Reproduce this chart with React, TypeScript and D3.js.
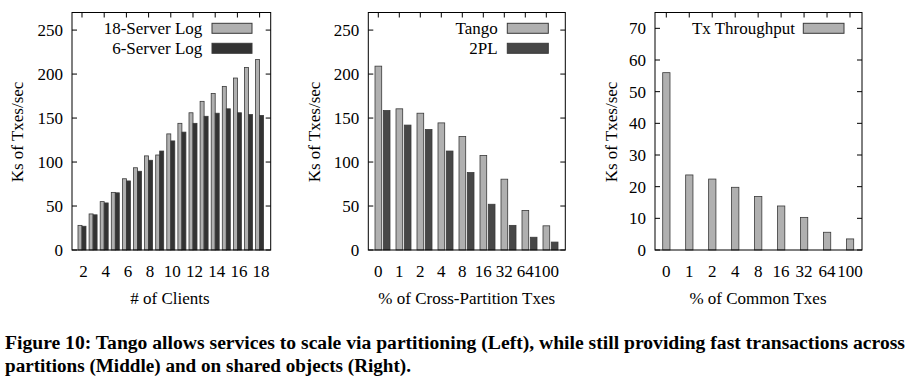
import * as d3 from 'd3'

// ── data ─────────────────────────────────────────────────────────────────────
const clients      = [2, 3, 4, 5, 6, 7, 8, 9, 10, 11, 12, 13, 14, 15, 16, 17, 18]
const server18     = [28, 41, 55, 65.5, 81, 93.5, 107, 108, 132, 144, 156, 169, 178, 186, 195.5, 207.5, 216.5]
const server6      = [27, 40, 53.5, 65, 78.5, 89.5, 102, 112.5, 124, 134, 144, 152, 155.5, 160.5, 156, 154, 153]
const clientTicks  = [2, 4, 6, 8, 10, 12, 14, 16, 18]

const crossCats    = ['0', '1', '2', '4', '8', '16', '32', '64', '100']
const tango        = [209, 160.5, 155.5, 144.5, 129, 107.5, 80.5, 45, 27.5]
const twoPL        = [158.5, 142, 137, 112.5, 88, 52, 28, 14.5, 9]

const commonCats   = ['0', '1', '2', '4', '8', '16', '32', '64', '100']
const txThroughput = [56, 23.7, 22.4, 19.8, 16.9, 13.9, 10.3, 5.6, 3.5]

const yTicksBig    = [0, 50, 100, 150, 200, 250]
const yTicksSmall  = [0, 10, 20, 30, 40, 50, 60, 70]

// ── styles ───────────────────────────────────────────────────────────────────
const FONT    = '"Liberation Serif", "Times New Roman", serif'
const C_LIGHT = '#b0b0b0'
const C_DARK  = '#333333'
const C_DARK2 = '#474747'
const C_EDGE  = '#3a3a3a'
const FS      = 17
const TOP     = 12.5
const BOT     = 250
const TICK    = 5

function Frame({ x0, x1, yTicks, y, topTicks }: { x0: number; x1: number; yTicks: number[]; y: d3.ScaleLinear<number, number>; topTicks: number[] }) {
  return (
    <g>
      {yTicks.map(v => (
        <g key={v}>
          <line x1={x0} x2={x0 + TICK} y1={y(v)} y2={y(v)} stroke="#000" />
          <line x1={x1 - TICK} x2={x1} y1={y(v)} y2={y(v)} stroke="#000" />
          <text x={x0 - 9} y={y(v)} dy="0.35em" textAnchor="end" fontSize={FS}>{v}</text>
        </g>
      ))}
      {topTicks.map((t, i) => (
        <line key={i} x1={t} x2={t} y1={TOP} y2={TOP + TICK} stroke="#000" />
      ))}
      <rect x={x0} y={TOP} width={x1 - x0} height={BOT - TOP} fill="none" stroke="#000" strokeWidth={1} />
    </g>
  )
}

function LegendRow({ label, xEnd, x0, x1, yc, fill }: { label: string; xEnd: number; x0: number; x1: number; yc: number; fill: string }) {
  return (
    <g>
      <text x={xEnd} y={yc} dy="0.35em" textAnchor="end" fontSize={FS}>{label}</text>
      <rect x={x0} y={yc - 5} width={x1 - x0} height={10} fill={fill} stroke={C_EDGE} strokeWidth={1} />
    </g>
  )
}

export default function App() {
  // left
  const xL = d3.scaleLinear().domain([1.1, 19]).range([72, 270.7])
  const yL = d3.scaleLinear().domain([0, 270]).range([BOT, TOP])
  const bwL = xL(2.36) - xL(2)

  // middle
  const xM = d3.scalePoint<string>().domain(crossCats).range([378.3, 546.3])
  const yM = yL

  // right
  const xR = d3.scalePoint<string>().domain(commonCats).range([666.3, 850])
  const yR = d3.scaleLinear().domain([0, 75]).range([BOT, TOP])

  return (
    <svg width={921} height={389} style={{ position: 'absolute', left: 0, top: 0, background: '#fff' }} fontFamily={FONT}>
      <rect width={921} height={389} fill="#fff" />

      {/* ── Left: scaling with clients ── */}
      {clients.map((c, i) => (
        <g key={c}>
          <rect x={xL(c) - bwL} y={yL(server18[i])} width={bwL} height={BOT - yL(server18[i])} fill={C_LIGHT} stroke={C_EDGE} strokeWidth={0.8} />
          <rect x={xL(c)} y={yL(server6[i])} width={bwL} height={BOT - yL(server6[i])} fill={C_DARK} stroke={C_EDGE} strokeWidth={0.8} />
        </g>
      ))}
      <Frame x0={72} x1={270.7} yTicks={yTicksBig} y={yL} topTicks={clientTicks.map(c => xL(c))} />
      {clientTicks.map(c => (
        <text key={c} x={xL(c) + 1.5} y={277} textAnchor="middle" fontSize={FS}>{c}</text>
      ))}
      <LegendRow label="18-Server Log" xEnd={202.3} x0={212} x1={252} yc={28.3} fill={C_LIGHT} />
      <LegendRow label="6-Server Log" xEnd={202.3} x0={212} x1={252} yc={48.3} fill={C_DARK} />
      <text transform="translate(23,132) rotate(-90)" textAnchor="middle" fontSize={FS}>Ks of Txes/sec</text>
      <text x={170} y={304} textAnchor="middle" fontSize={FS}># of Clients</text>

      {/* ── Middle: cross-partition txes ── */}
      {crossCats.map((c, i) => {
        const t = xM(c)!
        return (
          <g key={c}>
            <rect x={t - 3.3} y={yM(tango[i])} width={6.7} height={BOT - yM(tango[i])} fill={C_LIGHT} stroke={C_EDGE} strokeWidth={0.8} />
            <rect x={t + 5} y={yM(twoPL[i])} width={6.7} height={BOT - yM(twoPL[i])} fill={C_DARK2} stroke={C_EDGE} strokeWidth={0.8} />
          </g>
        )
      })}
      <Frame x0={368.3} x1={565.3} yTicks={yTicksBig} y={yM} topTicks={crossCats.map(c => xM(c)!)} />
      {crossCats.map(c => (
        <text key={c} x={xM(c)!} y={277} textAnchor="middle" fontSize={FS}>{c}</text>
      ))}
      <LegendRow label="Tango" xEnd={497.7} x0={507.3} x1={548.3} yc={28.3} fill={C_LIGHT} />
      <LegendRow label="2PL" xEnd={497.7} x0={507.3} x1={548.3} yc={48.3} fill={C_DARK2} />
      <text transform="translate(320,132) rotate(-90)" textAnchor="middle" fontSize={FS}>Ks of Txes/sec</text>
      <text x={466.7} y={304} textAnchor="middle" fontSize={FS}>% of Cross-Partition Txes</text>

      {/* ── Right: common txes ── */}
      {commonCats.map((c, i) => {
        const t = xR(c)!
        return (
          <rect key={c} x={t - 3.6} y={yR(txThroughput[i])} width={7.3} height={BOT - yR(txThroughput[i])} fill={C_LIGHT} stroke={C_EDGE} strokeWidth={0.8} />
        )
      })}
      <Frame x0={655} x1={862} yTicks={yTicksSmall} y={yR} topTicks={commonCats.map(c => xR(c)!)} />
      {commonCats.map(c => (
        <text key={c} x={xR(c)!} y={277} textAnchor="middle" fontSize={FS}>{c}</text>
      ))}
      <LegendRow label="Tx Throughput" xEnd={795} x0={803.3} x1={844} yc={28.3} fill={C_LIGHT} />
      <text transform="translate(617,132) rotate(-90)" textAnchor="middle" fontSize={FS}>Ks of Txes/sec</text>
      <text x={758} y={304} textAnchor="middle" fontSize={FS}>% of Common Txes</text>

      {/* ── Caption ── */}
      <text x={5} y={349} fontSize={18} fontWeight="bold" textLength={900} lengthAdjust="spacingAndGlyphs">
        Figure 10: Tango allows services to scale via partitioning (Left), while still providing fast transactions across
      </text>
      <text x={5} y={372} fontSize={18} fontWeight="bold" textLength={406} lengthAdjust="spacingAndGlyphs">
        partitions (Middle) and on shared objects (Right).
      </text>
    </svg>
  )
}
